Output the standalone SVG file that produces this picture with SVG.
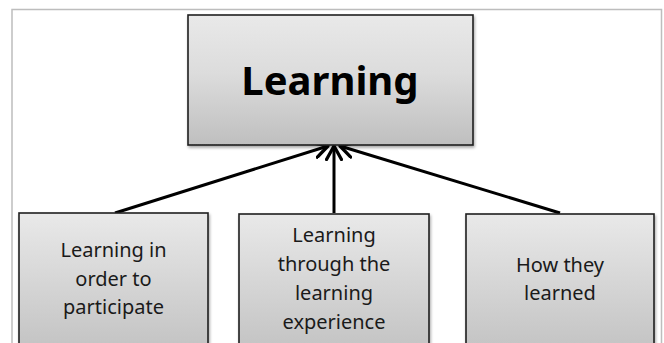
<svg xmlns="http://www.w3.org/2000/svg" width="664" height="343" viewBox="0 0 664 343">
  <defs>
    <linearGradient id="boxFill" x1="0" y1="0" x2="0" y2="1">
      <stop offset="0" stop-color="#e9e9e9"/>
      <stop offset="0.45" stop-color="#dcdcdc"/>
      <stop offset="1" stop-color="#bfbfbf"/>
    </linearGradient>
    <linearGradient id="boxFillTall" x1="0" y1="0" x2="0" y2="1">
      <stop offset="0" stop-color="#e9e9e9"/>
      <stop offset="1" stop-color="#c2c2c2"/>
    </linearGradient>
    <filter id="shadow" x="-5%" y="-5%" width="112%" height="115%">
      <feGaussianBlur in="SourceAlpha" stdDeviation="1.5"/>
      <feOffset dx="1" dy="2" result="b"/>
      <feComponentTransfer><feFuncA type="linear" slope="0.35"/></feComponentTransfer>
      <feMerge><feMergeNode/><feMergeNode in="SourceGraphic"/></feMerge>
    </filter>
    <marker id="openArrow" viewBox="0 0 12 12" refX="10" refY="6" markerWidth="6" markerHeight="6" markerUnits="strokeWidth" orient="auto">
      <path d="M1,1 L10,6 L1,11" fill="none" stroke="#000" stroke-width="2.2" stroke-linecap="round" stroke-linejoin="round"/>
    </marker>
  </defs>
  <style>
    .frame { fill: none; stroke: #bdbdbd; stroke-width: 1.5; }
    .box { stroke: #1e1e1e; stroke-width: 1.6; filter: url(#shadow); }
    .title { font-family: "Noto Sans", "Open Sans", sans-serif; font-weight: bold; font-size: 40px; fill: #000; text-anchor: middle; }
    .label { font-family: "Noto Sans", "Open Sans", sans-serif; font-size: 20px; fill: #1a1a1a; text-anchor: middle; }
    .link { fill: none; stroke: #000; stroke-width: 3; marker-end: url(#openArrow); }
  </style>

  <rect width="664" height="343" fill="#ffffff"/>
  <!-- page frame, open at the bottom -->
  <path class="frame" d="M12,345 L12,9.5 L661.5,9.5 L661.5,345"/>

  <g id="connectors">
    <line class="link" x1="115" y1="213" x2="328" y2="146"/>
    <line class="link" x1="334" y1="213" x2="334" y2="146"/>
    <line class="link" x1="560" y1="213" x2="340" y2="146"/>
  </g>

  <g id="learning">
    <rect class="box" x="188" y="15" width="285" height="130" fill="url(#boxFill)"/>
    <text class="title" x="330" y="95">Learning</text>
  </g>

  <g id="learning-in-order">
    <rect class="box" x="19" y="213" width="189" height="140" fill="url(#boxFillTall)"/>
    <text class="label" x="113.5" y="257">Learning in</text>
    <text class="label" x="113.5" y="285.5">order to</text>
    <text class="label" x="113.5" y="314">participate</text>
  </g>

  <g id="learning-through-experience">
    <rect class="box" x="239" y="214" width="190" height="140" fill="url(#boxFillTall)"/>
    <text class="label" x="334" y="242">Learning</text>
    <text class="label" x="334" y="271">through the</text>
    <text class="label" x="334" y="300">learning</text>
    <text class="label" x="334" y="329">experience</text>
  </g>

  <g id="how-they-learned">
    <rect class="box" x="466" y="214" width="188" height="140" fill="url(#boxFillTall)"/>
    <text class="label" x="560" y="272">How they</text>
    <text class="label" x="560" y="300">learned</text>
  </g>
</svg>
